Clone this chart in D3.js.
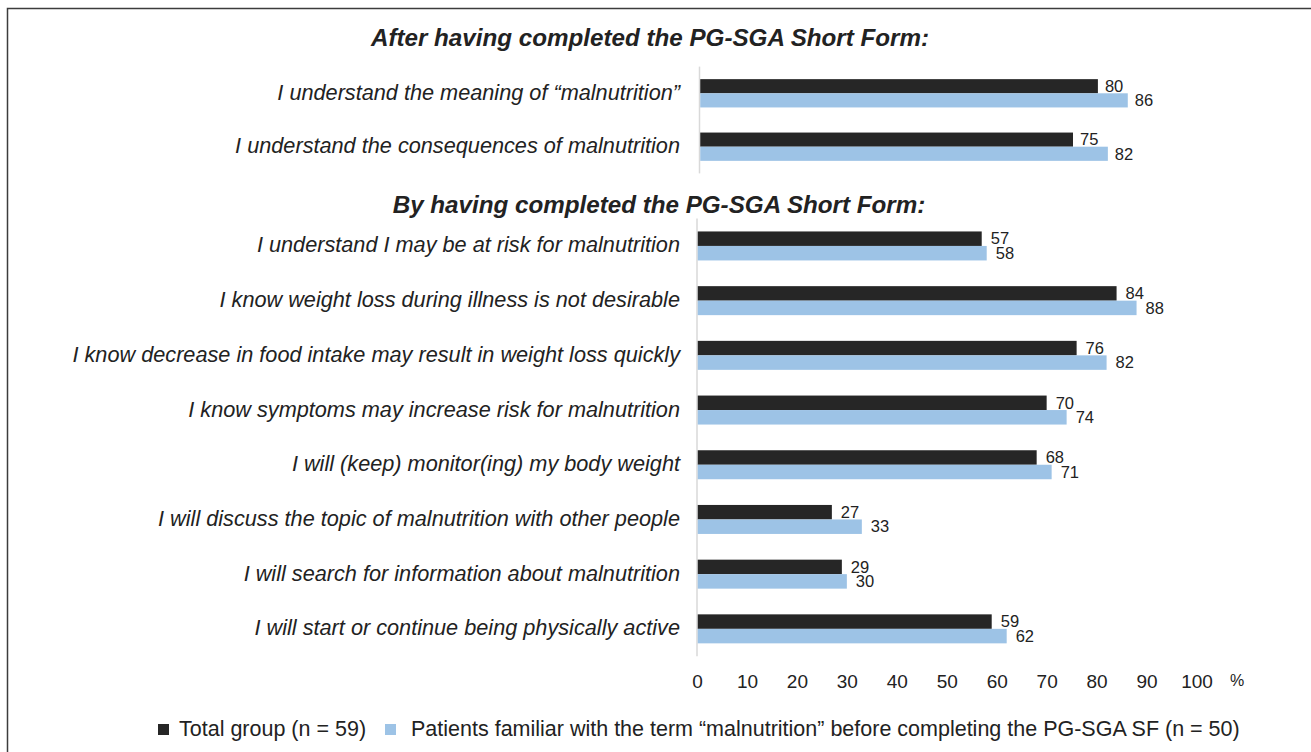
<!DOCTYPE html>
<html>
<head>
<meta charset="utf-8">
<script src="https://cdn.jsdelivr.net/npm/d3@7"></script>
<style>
  html, body { margin: 0; padding: 0; background: #fff; }
  svg text { font-family: "Liberation Sans", Arial, Helvetica, sans-serif; fill: #222; }
</style>
</head>
<body>
<div id="chart"></div>
<script>
// data
const sectionTitles = [
  "After having completed the PG-SGA Short Form:",
  "By having completed the PG-SGA Short Form:"
];
const afterItems = [
  "I understand the meaning of \u201cmalnutrition\u201d",
  "I understand the consequences of malnutrition"
];
const afterTotal = [80, 75];
const afterFamiliar = [86, 82];

const byItems = [
  "I understand I may be at risk for malnutrition",
  "I know weight loss during illness is not desirable",
  "I know decrease in food intake may result in weight loss quickly",
  "I know symptoms may increase risk for malnutrition",
  "I will (keep) monitor(ing) my body weight",
  "I will discuss the topic of malnutrition with other people",
  "I will search for information about malnutrition",
  "I will start or continue being physically active"
];
const byTotal = [57, 84, 76, 70, 68, 27, 29, 59];
const byFamiliar = [58, 88, 82, 74, 71, 33, 30, 62];

const seriesNames = [
  "Total group (n = 59)",
  "Patients familiar with the term \u201cmalnutrition\u201d before completing the PG-SGA SF (n = 50)"
];
const seriesColors = ["#262626", "#9dc3e6"];
const xTicks = [0, 10, 20, 30, 40, 50, 60, 70, 80, 90, 100];

const W = 1311, H = 752;

const svg = d3.select("#chart").append("svg")
  .attr("width", W)
  .attr("height", H);

svg.append("rect").attr("width", W).attr("height", H).attr("fill", "#fff");

// outer frame (open to the right / bottom, like the cropped figure)
svg.append("path")
  .attr("d", "M7.5," + H + "V8.5H" + W)
  .attr("fill", "none")
  .attr("stroke", "#3c3c3c")
  .attr("stroke-width", 1.5);

// section titles
svg.append("text")
  .attr("x", 650).attr("y", 45.5)
  .attr("text-anchor", "middle")
  .style("font-size", "24.2px").style("font-weight", "bold").style("font-style", "italic")
  .text(sectionTitles[0]);

svg.append("text")
  .attr("x", 659).attr("y", 213)
  .attr("text-anchor", "middle")
  .style("font-size", "24.2px").style("font-weight", "bold").style("font-style", "italic")
  .text(sectionTitles[1]);

function drawSection(items, total, familiar, yRange, xRange, gap) {
  const rows = items.map((d, i) => ({label: d, values: [total[i], familiar[i]]}));

  const x = d3.scaleLinear().domain([0, 100]).range(xRange);

  const y = d3.scaleBand()
    .domain(items)
    .range(yRange)
    .paddingInner(0.47)
    .paddingOuter(0.235);

  const ySub = d3.scaleBand()
    .domain([0, 1])
    .range([0, y.bandwidth()]);

  const g = svg.append("g");

  // category axis line
  g.append("line")
    .attr("x1", x(0)).attr("x2", x(0))
    .attr("y1", yRange[0]).attr("y2", yRange[1])
    .attr("stroke", "#d9d9d9")
    .attr("stroke-width", 1.5);

  // category labels
  g.selectAll("text.cat")
    .data(rows)
    .join("text")
    .attr("class", "cat")
    .attr("x", 680)
    .attr("y", d => y(d.label) + y.bandwidth() / 2)
    .attr("dy", "0.3em")
    .attr("text-anchor", "end")
    .style("font-size", "21.7px")
    .style("font-style", "italic")
    .text(d => d.label);

  const row = g.selectAll("g.row")
    .data(rows)
    .join("g")
    .attr("class", "row")
    .attr("transform", d => "translate(0," + y(d.label) + ")");

  row.selectAll("rect")
    .data(d => d.values)
    .join("rect")
    .attr("x", x(0) + 0.75)
    .attr("y", (v, i) => ySub(i))
    .attr("width", v => x(v) - x(0) - 0.75)
    .attr("height", ySub.bandwidth())
    .attr("fill", (v, i) => seriesColors[i]);

  row.selectAll("text.val")
    .data(d => d.values)
    .join("text")
    .attr("class", "val")
    .attr("x", v => x(v) + gap)
    .attr("y", (v, i) => ySub(i) + ySub.bandwidth() / 2)
    .attr("dy", "0.35em")
    .style("font-size", "16.5px")
    .text(v => v);

  return x;
}

drawSection(afterItems, afterTotal, afterFamiliar, [66.6, 173.4], [699.5, 1197.5], 7);
const xLow = drawSection(byItems, byTotal, byFamiliar, [218.6, 656.2], [697, 1196.5], 9);

// value axis
const xAxis = d3.axisBottom(xLow)
  .tickValues(xTicks)
  .tickSize(0)
  .tickPadding(0)
  .tickFormat(d3.format("d"));

const axisG = svg.append("g")
  .attr("transform", "translate(0,672)")
  .call(xAxis);
axisG.select(".domain").remove();
axisG.selectAll("text")
  .attr("dy", "0.35em")
  .attr("y", 9.5)
  .style("font-size", "19px")
  .style("fill", "#222")
  .style("font-family", "\"Liberation Sans\", Arial, Helvetica, sans-serif");

svg.append("text")
  .attr("x", 1237).attr("y", 686)
  .attr("text-anchor", "middle")
  .style("font-size", "16px")
  .text("%");

// legend
const legendX = [158, 385];
const legend = svg.append("g");
seriesNames.forEach((name, i) => {
  legend.append("rect")
    .attr("x", legendX[i]).attr("y", 724)
    .attr("width", 11).attr("height", 11)
    .attr("fill", seriesColors[i]);
  legend.append("text")
    .attr("x", legendX[i] + (i === 0 ? 21 : 26))
    .attr("y", 736)
    .style("font-size", "21.5px")
    .text(name);
});
</script>
</body>
</html>
